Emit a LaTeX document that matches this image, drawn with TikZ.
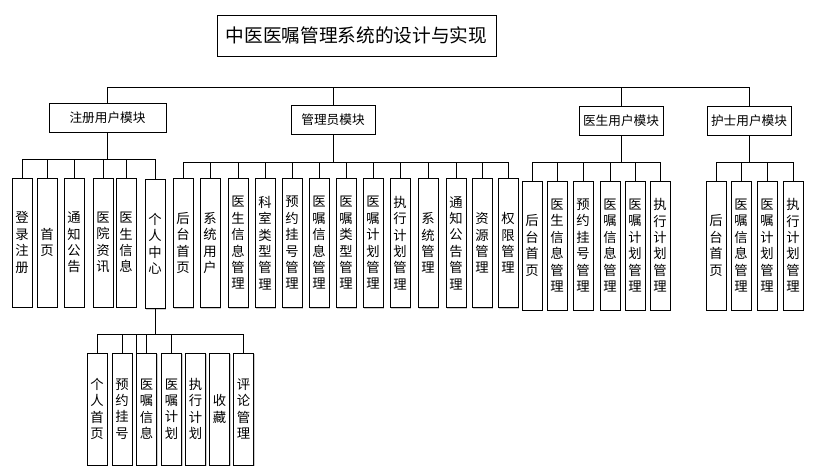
\documentclass[tikz,border=0pt]{standalone}
\usepackage{fontspec}
\newfontfamily\cjk{Noto Sans CJK SC}
\usetikzlibrary{shadows}
\begin{document}
\begin{tikzpicture}[x=0.75pt,y=-0.75pt,
  every node/.style={font=\cjk},
  boxbase/.style={draw=black, line width=0.75pt, fill=white, inner sep=0pt,
    drop shadow={shadow xshift=1.1pt, shadow yshift=-1.1pt, fill=black!40, opacity=0.5}},
  titlebox/.style={boxbase, minimum width=209.25pt, minimum height=30.75pt, font=\cjk\fontsize{14}{17}\selectfont},
  modbox/.style={boxbase, minimum height=21.75pt, font=\cjk\fontsize{9.5}{11}\selectfont},
  leaf/.style={boxbase, minimum width=15pt, align=center, font=\cjk\fontsize{10}{12.3}\selectfont},
  tall/.style={leaf, minimum height=96.75pt},
  short/.style={leaf, minimum height=84pt},
  link/.style={draw=black, line width=0.75pt}
]
\useasboundingbox (0,0) rectangle (819,475);

% title and modules
\node[titlebox] (t) at (356.5,35.5) {中医医嘱管理系统的设计与实现};
\node[modbox, minimum width=87.75pt] (m1) at (107.5,117.5) {注册用户模块};
\node[modbox, minimum width=63pt] (m2) at (333,119.5) {管理员模块};
\node[modbox, minimum width=63pt] (m3) at (621,120.5) {医生用户模块};
\node[modbox, minimum width=63pt] (m4) at (749,120.5) {护士用户模块};

% register user leaves
\node[tall] (r1) at (22,242.5) {登\\录\\注\\册};
\node[tall] (r2) at (47,242.5) {首\\页};
\node[tall] (r3) at (74,242.5) {通\\知\\公\\告};
\node[tall] (r4) at (103,242.5) {医\\院\\资\\讯};
\node[tall] (r5) at (126,242.5) {医\\生\\信\\息};
\node[tall] (r6) at (155,244) {个\\人\\中\\心};

% admin leaves
\node[tall] (a1) at (183,243) {后\\台\\首\\页};
\node[tall] (a2) at (210,243) {系\\统\\用\\户};
\node[tall] (a3) at (238,243) {医\\生\\信\\息\\管\\理};
\node[tall] (a4) at (265,243) {科\\室\\类\\型\\管\\理};
\node[tall] (a5) at (292,243) {预\\约\\挂\\号\\管\\理};
\node[tall] (a6) at (319,243) {医\\嘱\\信\\息\\管\\理};
\node[tall] (a7) at (346,243) {医\\嘱\\类\\型\\管\\理};
\node[tall] (a8) at (373,243) {医\\嘱\\计\\划\\管\\理};
\node[tall] (a9) at (400,243) {执\\行\\计\\划\\管\\理};
\node[tall] (a10) at (428,243) {系\\统\\管\\理};
\node[tall] (a11) at (456,243) {通\\知\\公\\告\\管\\理};
\node[tall] (a12) at (482,243) {资\\源\\管\\理};
\node[tall] (a13) at (508,243) {权\\限\\管\\理};

% doctor leaves
\node[tall] (d1) at (532,245.5) {后\\台\\首\\页};
\node[tall] (d2) at (557,245.5) {医\\生\\信\\息\\管\\理};
\node[tall] (d3) at (583,245.5) {预\\约\\挂\\号\\管\\理};
\node[tall] (d4) at (610,245.5) {医\\嘱\\信\\息\\管\\理};
\node[tall] (d5) at (635,245.5) {医\\嘱\\计\\划\\管\\理};
\node[tall] (d6) at (660,245.5) {执\\行\\计\\划\\管\\理};

% nurse leaves
\node[tall] (n1) at (716,245.5) {后\\台\\首\\页};
\node[tall] (n2) at (741,245.5) {医\\嘱\\信\\息\\管\\理};
\node[tall] (n3) at (767,245.5) {医\\嘱\\计\\划\\管\\理};
\node[tall] (n4) at (793,245.5) {执\\行\\计\\划\\管\\理};

% personal centre leaves
\node[short] (p1) at (97,409) {个\\人\\首\\页};
\node[short] (p2) at (122,409) {预\\约\\挂\\号};
\node[short] (p3) at (146.5,409) {医\\嘱\\信\\息};
\node[short] (p4) at (171.5,409) {医\\嘱\\计\\划};
\node[short] (p5) at (195.5,409) {执\\行\\计\\划};
\node[short] (p6) at (219.5,409) {收\\藏};
\node[short] (p7) at (243.5,409) {评\\论\\管\\理};

% bar levels
\coordinate (ytop) at (0,87);
\coordinate (y1) at (0,159);
\coordinate (y2) at (0,162);
\coordinate (y5) at (0,334);

% top bar (title not connected)
\draw[link] (m1.north) -- (m1.north |- ytop) -- (m4.north |- ytop) -- (m4.north);
\draw[link] (m2.north) -- (m2.north |- ytop);
\draw[link] (m3.north) -- (m3.north |- ytop);

% module to leaves
\foreach \c in {r1,r2,r3,r4,r5,r6}
  \draw[link] (m1.south) -- (m1.south |- y1) -| (\c.north);
\foreach \c in {a1,a2,a3,a4,a5,a6,a7,a8,a9,a10,a11,a12,a13}
  \draw[link] (m2.south) -- (m2.south |- y2) -| (\c.north);
\foreach \c in {d1,d2,d3,d4,d5,d6}
  \draw[link] (m3.south) -- (m3.south |- y2) -| (\c.north);
\foreach \c in {n1,n2,n3,n4}
  \draw[link] (m4.south) -- (m4.south |- y2) -| (\c.north);

% personal centre to its leaves
\foreach \c in {p1,p2,p3,p4,p7}
  \draw[link] (r6.south) -- (r6.south |- y5) -| (\c.north);
\draw[link] (r6.south |- y5) -| (p3.north west);
\end{tikzpicture}
\end{document}
